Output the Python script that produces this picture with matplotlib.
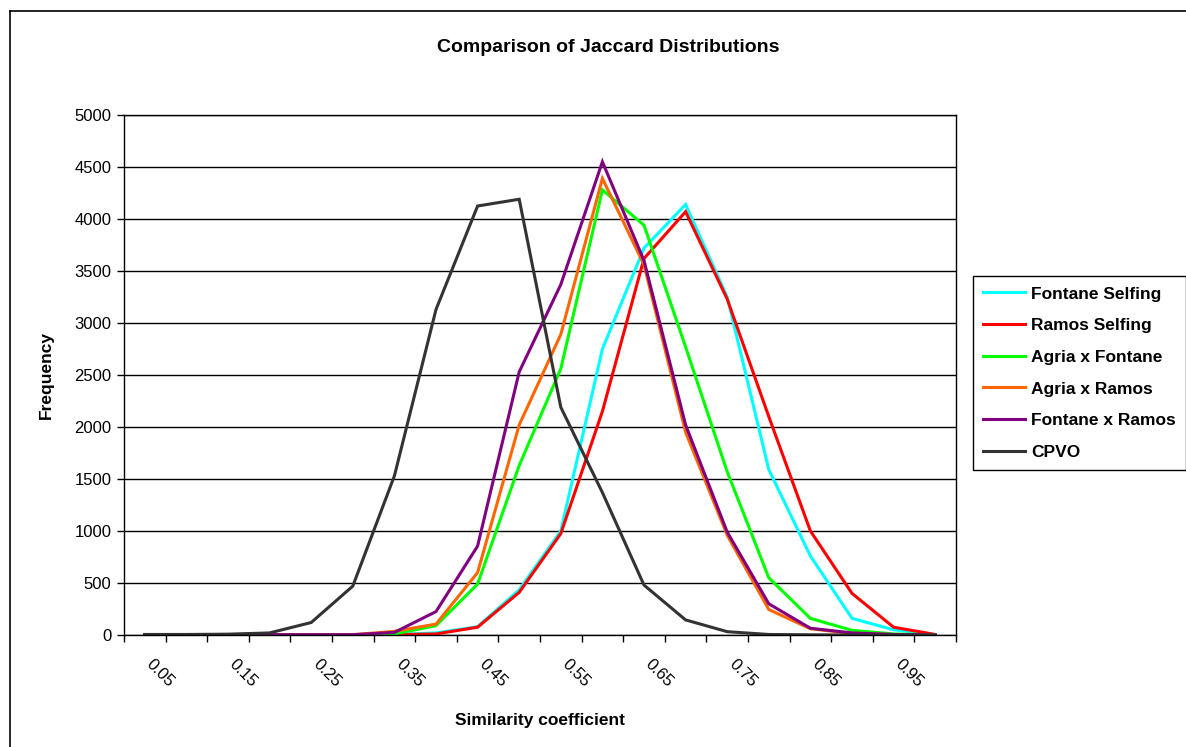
import numpy as np
import matplotlib
matplotlib.use('Agg')
import matplotlib.pyplot as plt
from matplotlib.lines import Line2D
from matplotlib.transforms import ScaledTranslation

plt.rcParams['font.family'] = ['Liberation Sans', 'DejaVu Sans']

# Similarity coefficient categories (bins)
categories = ['0.05', '0.10', '0.15', '0.20', '0.25', '0.30', '0.35', '0.40', '0.45', '0.50',
              '0.55', '0.60', '0.65', '0.70', '0.75', '0.80', '0.85', '0.90', '0.95', '1.00']

# Frequencies
fontane_selfing = [3, 3, 3, 3, 3, 3, 5, 20, 80, 435, 1000, 2750, 3720, 4140, 3250, 1590, 760, 160, 50, 5]
ramos_selfing = [3, 3, 3, 3, 3, 3, 3, 10, 75, 410, 975, 2150, 3620, 4070, 3230, 2100, 1000, 400, 75, 5]
agria_fontane = [3, 3, 3, 3, 3, 3, 10, 90, 490, 1630, 2560, 4280, 3940, 2770, 1570, 550, 160, 45, 10, 2]
agria_ramos = [3, 3, 3, 3, 3, 3, 35, 105, 600, 2020, 2890, 4390, 3560, 1950, 960, 245, 60, 15, 5, 0]
fontane_ramos = [3, 3, 3, 3, 3, 3, 25, 225, 855, 2530, 3370, 4550, 3600, 2020, 990, 300, 65, 20, 5, 0]
cpvo = [5, 5, 8, 20, 120, 470, 1530, 3130, 4125, 4190, 2190, 1370, 480, 145, 32, 5, 2, 0, 0, 0]

series = [
    ('Fontane Selfing', fontane_selfing, '#00FFFF'),
    ('Ramos Selfing', ramos_selfing, '#FF0000'),
    ('Agria x Fontane', agria_fontane, '#00FF00'),
    ('Agria x Ramos', agria_ramos, '#FF6600'),
    ('Fontane x Ramos', fontane_ramos, '#800080'),
    ('CPVO', cpvo, '#333333'),
]

W, H = 1186, 747
fig = plt.figure(figsize=(W / 100, H / 100), dpi=100)
ax = fig.add_axes([124 / W, 1 - 635 / H, (956 - 124) / W, (635 - 115) / H])

x = np.arange(len(categories))
for name, vals, col in series:
    ax.plot(x, vals, color=col, lw=2.2, label=name, solid_joinstyle='miter')

# axes limits and gridlines
ax.set_xlim(-0.5, len(categories) - 0.5)
ax.set_ylim(0, 5000)
ax.set_yticks(np.arange(0, 5001, 500))
ax.yaxis.grid(True, color='black', lw=1)
ax.set_axisbelow(True)
for s in ax.spines.values():
    s.set_color('black')
    s.set_linewidth(1)

# category axis: ticks between categories, labels every second category
ax.set_xticks(x[::2])
ax.set_xticklabels(categories[::2], rotation=-45, ha='left', va='center',
                   rotation_mode='anchor', fontsize=12)
ax.set_xticks(np.arange(-0.5, len(categories)), minor=True)
ax.tick_params(axis='x', which='major', length=0, pad=19)
ax.tick_params(axis='x', which='minor', length=5, width=1, color='black', direction='out')
ax.tick_params(axis='y', length=5, width=1, labelsize=12, direction='out', pad=4)
for lab in ax.get_xticklabels():
    lab.set_transform(lab.get_transform() + ScaledTranslation(0.04, 0, fig.dpi_scale_trans))

ax.set_xlabel('Similarity coefficient', fontsize=12.5, fontweight='bold', labelpad=17)
ax.set_ylabel('Frequency', fontsize=12.5, fontweight='bold', labelpad=15)
fig.text(608 / W, 1 - 48 / H, 'Comparison of Jaccard Distributions',
         ha='center', va='center', fontsize=14, fontweight='bold')

# legend
leg = fig.legend(loc='upper left', bbox_to_anchor=(973 / W, 1 - 276 / H),
                 frameon=True, fancybox=False, edgecolor='black', framealpha=1,
                 fontsize=12.5, handlelength=2.4, labelspacing=0.95,
                 borderpad=0.6, handletextpad=0.35, borderaxespad=0)
leg.get_frame().set_linewidth(1)
for t in leg.get_texts():
    t.set_fontweight('bold')

# chart area border
fig.add_artist(Line2D([10 / W, 10 / W], [0, 1 - 11 / H], color='black', lw=1.2))
fig.add_artist(Line2D([10 / W, 1], [1 - 11 / H, 1 - 11 / H], color='black', lw=1.2))

fig.savefig('out.png', dpi=100)
